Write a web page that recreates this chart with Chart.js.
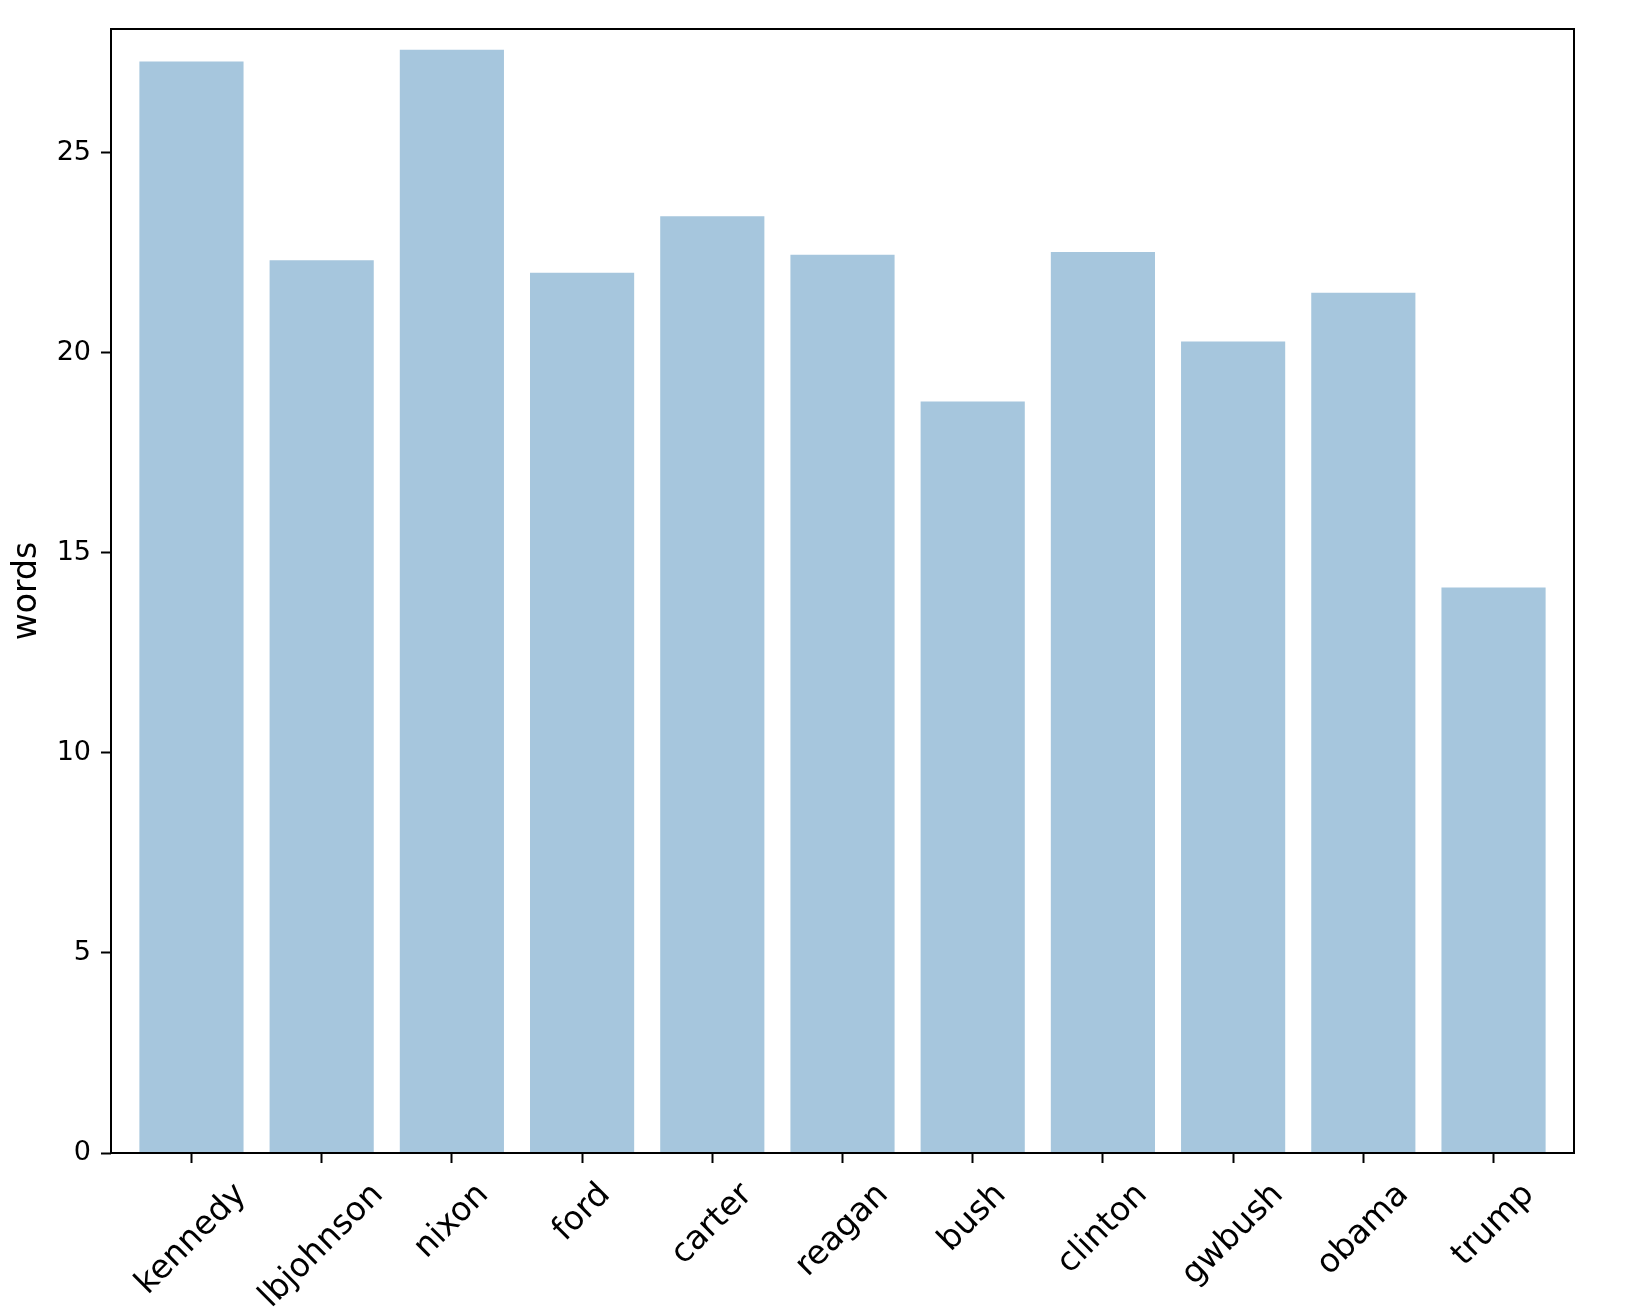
<!DOCTYPE html>
<html>
<head>
<meta charset="utf-8">
<script src="https://cdn.jsdelivr.net/npm/chart.js@4"></script>
<style>
  html, body { margin: 0; padding: 0; background: #fff; }
  #wrap { width: 1640px; height: 1316px; }
</style>
</head>
<body>
<div id="wrap"><canvas id="myChart" width="1640" height="1316"></canvas></div>
<script>
// datos del gráfico
const presidents = ['kennedy', 'lbjohnson', 'nixon', 'ford', 'carter', 'reagan',
    'bush', 'clinton', 'gwbush', 'obama', 'trump'];
const words = [27.28, 22.31, 27.57, 22.0, 23.41, 22.45, 18.78, 22.52, 20.28, 21.5, 14.13];
const yTicks = [0, 5, 10, 15, 20, 25];
const yLabel = 'words';

const FONT = '"DejaVu Sans", sans-serif';

// marco completo (spines de matplotlib) y etiquetas rotadas del eje x
const framePlugin = {
    id: 'frame',
    afterDraw(chart) {
        const ctx = chart.ctx;
        const a = chart.chartArea;
        ctx.save();
        ctx.strokeStyle = '#000';
        ctx.lineWidth = 2;
        ctx.strokeRect(a.left, a.top, a.right - a.left, a.bottom - a.top);

        // etiquetas x, rotadas 45 grados y alineadas por arriba
        const xs = chart.scales.x;
        const size = 33;
        ctx.font = size + 'px ' + FONT;
        ctx.fillStyle = '#000';
        ctx.textAlign = 'center';
        ctx.textBaseline = 'middle';
        const topY = a.bottom + 23;
        presidents.forEach((name, i) => {
            const w = ctx.measureText(name).width;
            const h = size * 1.16;
            const boxH = (w + h) * Math.SQRT1_2;
            const cx = xs.getPixelForValue(i);
            const cy = topY + boxH / 2;
            ctx.save();
            ctx.translate(cx, cy);
            ctx.rotate(-Math.PI / 4);
            ctx.fillText(name, 0, 0);
            ctx.restore();
        });

        // título del eje y
        ctx.save();
        ctx.translate(27, (a.top + a.bottom) / 2);
        ctx.rotate(-Math.PI / 2);
        ctx.fillText(yLabel, 0, 0);
        ctx.restore();
        ctx.restore();
    }
};

const ctx = document.getElementById('myChart').getContext('2d');
new Chart(ctx, {
    type: 'bar',
    data: {
        datasets: [{
            label: yLabel,
            data: words.map((v, i) => ({ x: i, y: v })),
            backgroundColor: '#a6c6dd',
            borderWidth: 0,
            barPercentage: 0.8,
            categoryPercentage: 1.0
        }]
    },
    options: {
        responsive: false,
        animation: false,
        devicePixelRatio: 1,
        layout: { padding: { left: 0, top: 29, right: 66, bottom: 0 } },
        plugins: {
            legend: { display: false },
            tooltip: { enabled: false }
        },
        scales: {
            x: {
                type: 'linear',
                offset: false,
                min: -0.618,
                max: 10.618,
                afterBuildTicks: (scale) => {
                    scale.ticks = presidents.map((p, i) => ({ value: i }));
                },
                afterFit: (scale) => { scale.height = 163; },
                ticks: { display: false },
                border: { display: false },
                grid: {
                    offset: false,
                    drawOnChartArea: false,
                    drawTicks: true,
                    tickLength: 10,
                    tickWidth: 2,
                    tickColor: '#000'
                }
            },
            y: {
                min: 0,
                max: 28.09,
                afterBuildTicks: (scale) => {
                    scale.ticks = yTicks.map(v => ({ value: v }));
                },
                afterFit: (scale) => { scale.width = 111; },
                border: { display: false },
                grid: {
                    drawOnChartArea: false,
                    drawTicks: true,
                    tickLength: 10,
                    tickWidth: 2,
                    tickColor: '#000'
                },
                ticks: {
                    color: '#000',
                    padding: 10,
                    font: { family: FONT, size: 27 }
                }
            }
        }
    },
    plugins: [framePlugin]
});
</script>
</body>
</html>
